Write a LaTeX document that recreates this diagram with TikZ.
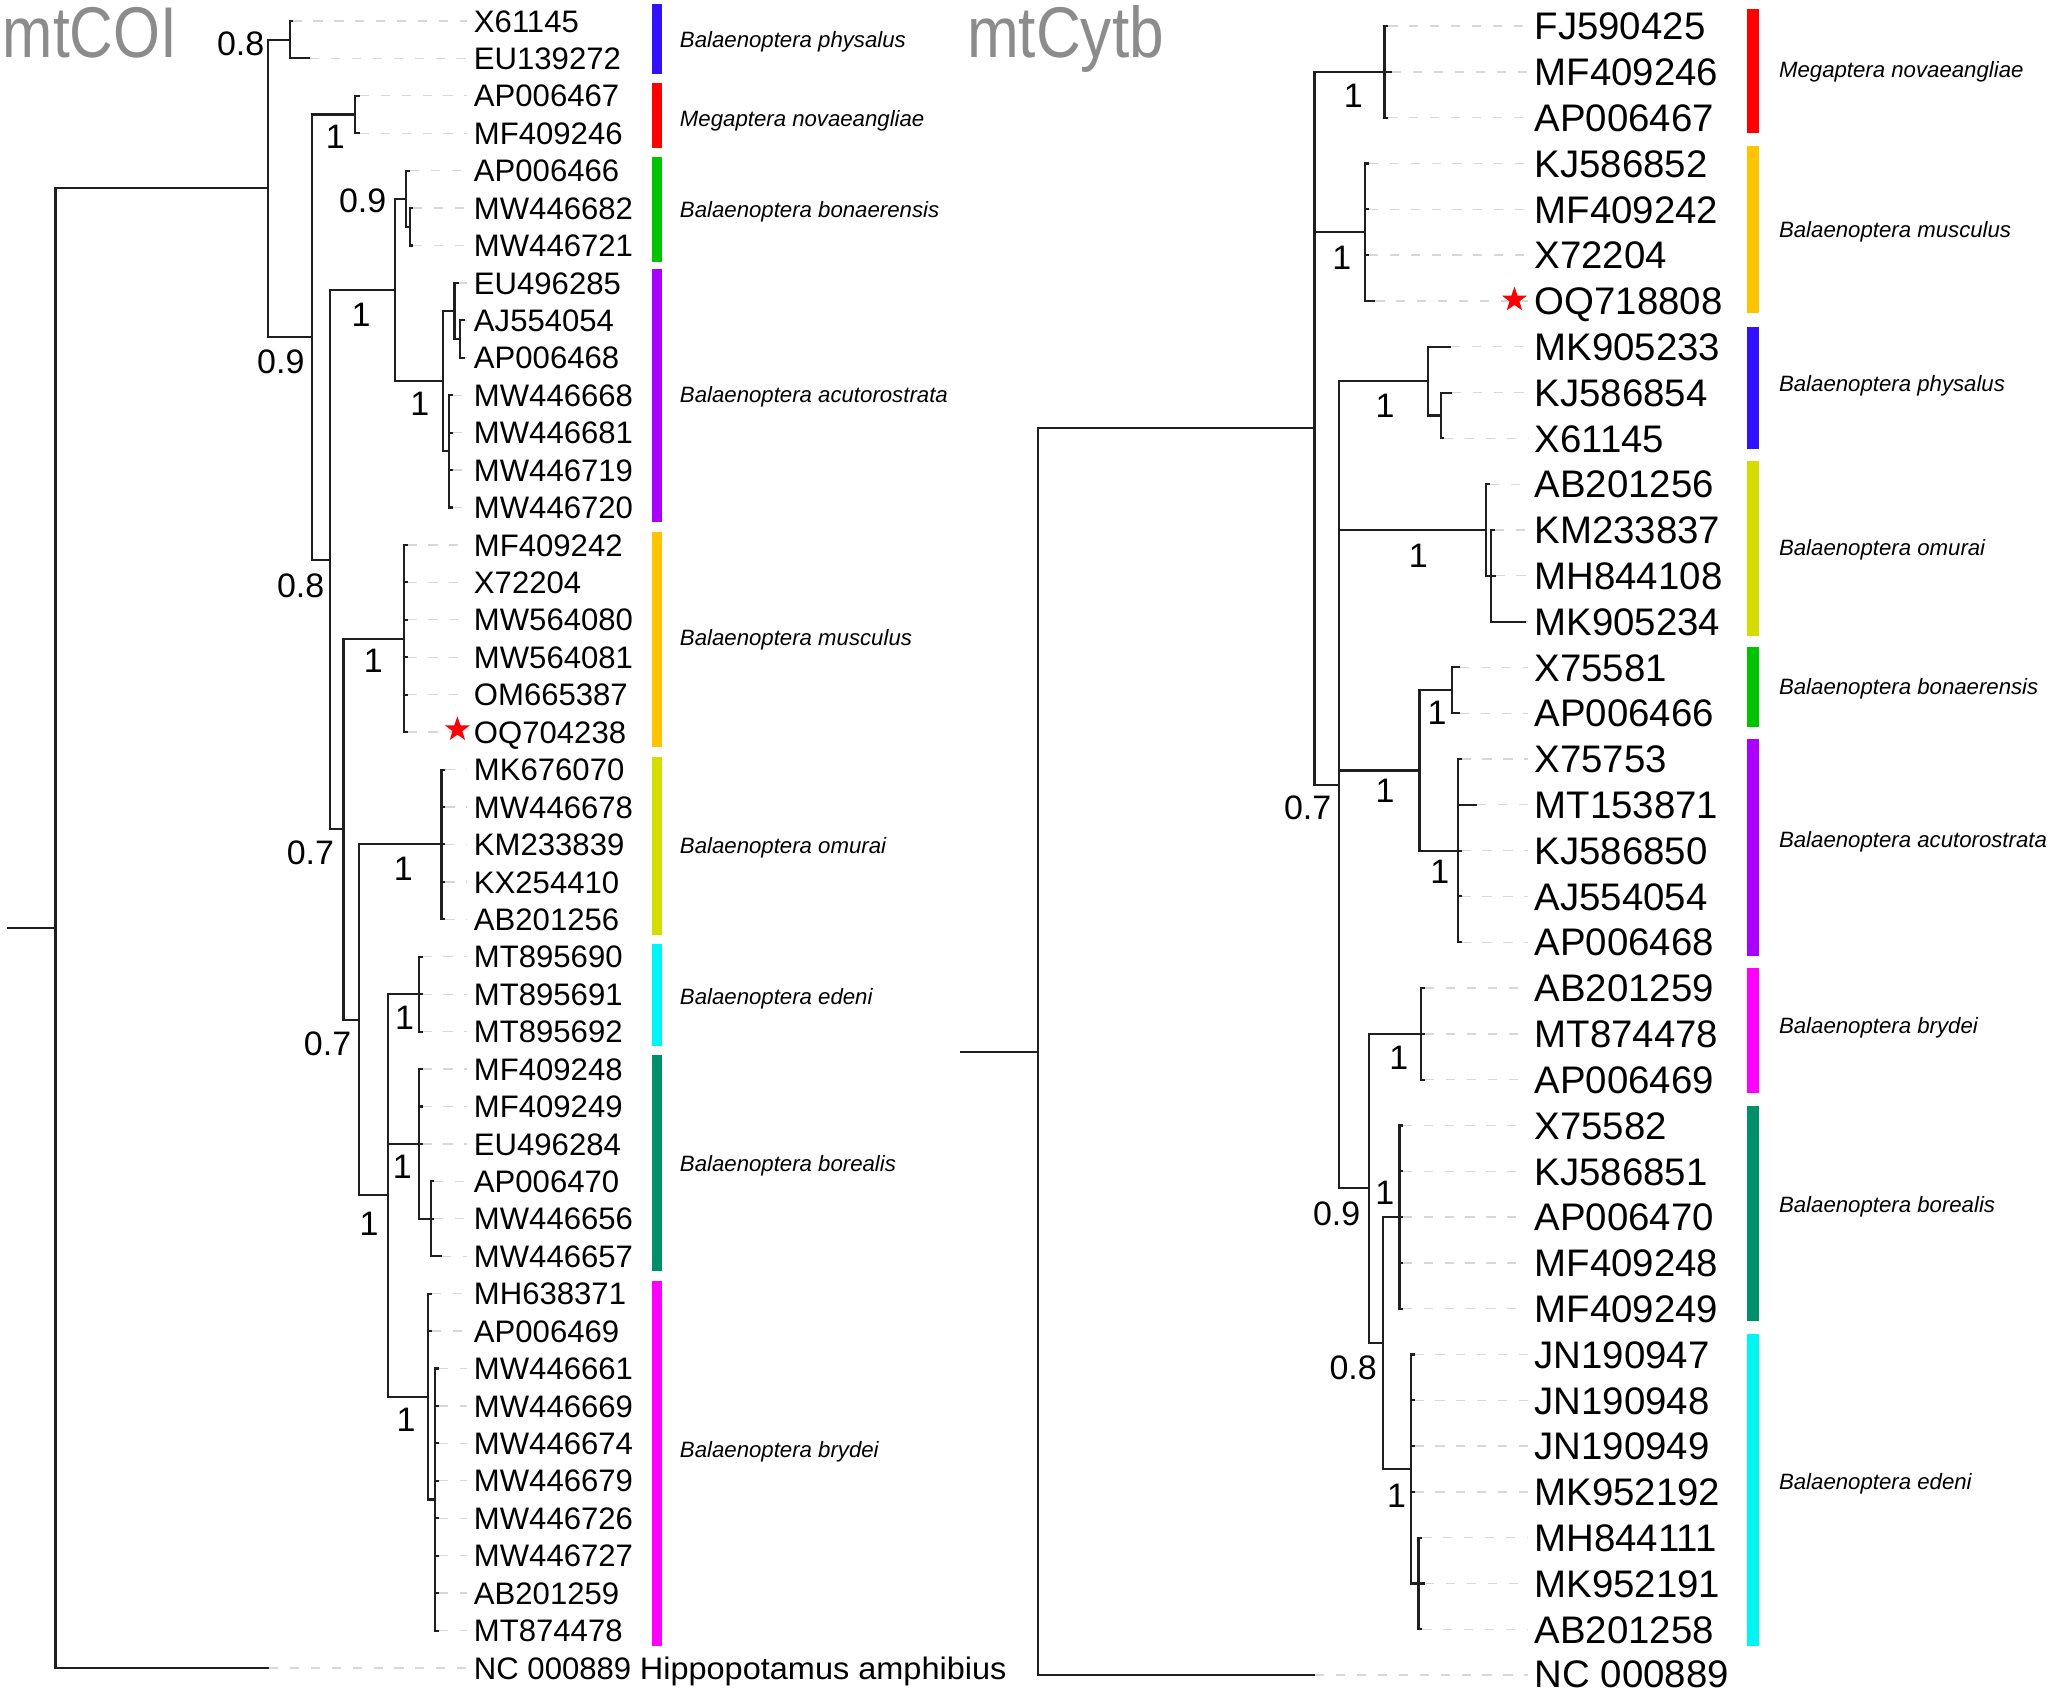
\documentclass[tikz,border=0pt]{standalone}
\usepackage{fontspec}
\setmainfont{Liberation Sans}
\usepackage{graphicx}
\usetikzlibrary{shapes.geometric}
\definecolor{cPh}{RGB}{51,17,255}
\definecolor{cMeg}{RGB}{255,0,0}
\definecolor{cBon}{RGB}{0,196,0}
\definecolor{cAcu}{RGB}{170,0,255}
\definecolor{cMus}{RGB}{255,196,0}
\definecolor{cOm}{RGB}{212,220,0}
\definecolor{cEd}{RGB}{0,245,245}
\definecolor{cBor}{RGB}{0,143,107}
\definecolor{cBry}{RGB}{255,0,255}
\definecolor{cTitle}{RGB}{140,140,140}
\definecolor{cLead}{RGB}{215,215,215}
\newcommand{\Lrow}[1]{(16+(#1-1)*28.66)}
\newcommand{\Rrow}[1]{(20+(#1-1)*35.07)}
\begin{document}
\begin{tikzpicture}[x=0.5pt,y=-0.5pt,
  br/.style={line width=0.8pt, draw=black!88},
  leader/.style={draw=cLead, line width=0.5pt, dash pattern=on 3.5pt off 4.5pt, shorten >=2.4pt},
  leafL/.style={anchor=base west, inner sep=0pt, font=\fontsize{11.9pt}{13pt}\selectfont, yshift=-4.26pt},
  leafR/.style={anchor=base west, inner sep=0pt, font=\fontsize{14.7pt}{16pt}\selectfont, yshift=-5.26pt},
  sup/.style={anchor=center, inner sep=0pt, font=\fontsize{13pt}{14pt}\selectfont},
  spec/.style={anchor=base west, inner sep=0pt, font=\fontsize{8.5pt}{10pt}\selectfont\itshape, yshift=-3.04pt},
  title/.style={inner sep=0pt, text=cTitle, font=\fontsize{27.5pt}{30pt}\selectfont},
  starR/.style={star, star points=5, star point ratio=2.5, fill=red, draw=none, inner sep=0pt, minimum size=10pt}
]
\useasboundingbox (0,0) rectangle (1568,1294);

% titles
\node[title, anchor=base east] (tCOI) at (136,43.7) {\scalebox{0.84}[1]{mtCOI}};
\node[title, anchor=base west] (tCytb) at (740,43.7) {\scalebox{0.865}[1]{mtCytb}};

% ================= LEFT TREE (mtCOI) =================
\foreach \i/\tx/\lab in {
 1/224/X61145, 2/237.5/EU139272, 3/275.5/AP006467, 4/275.5/MF409246,
 5/314/AP006466, 6/316/MW446682, 7/316/MW446721, 8/351.5/EU496285,
 9/356/AJ554054, 10/356/AP006468, 11/346.5/MW446668, 12/346.5/MW446681,
 13/346.5/MW446719, 14/346.5/MW446720, 15/312/MF409242, 16/312/X72204,
 17/312/MW564080, 18/312/MW564081, 19/312/OM665387, 20/312/OQ704238,
 21/341/MK676070, 22/341/MW446678, 23/341/KM233839, 24/341/KX254410,
 25/341/AB201256, 26/323.5/MT895690, 27/323.5/MT895691, 28/323.5/MT895692,
 29/323.5/MF409248, 30/323.5/MF409249, 31/323.5/EU496284, 32/332.5/AP006470,
 33/332.5/MW446656, 34/338.5/MW446657, 35/331/MH638371, 36/331/AP006469,
 37/336/MW446661, 38/336/MW446669, 39/336/MW446674, 40/336/MW446679,
 41/336/MW446726, 42/336/MW446727, 43/336/AB201259, 44/336/MT874478,
 45/206/{NC 000889 \scalebox{1.045}[1]{Hippopotamus amphibius}}}{
  \coordinate (Lt\i) at (\tx,{\Lrow{\i}});
  \node[leafL] (L\i) at (362.5,{\Lrow{\i}}) {\lab};
  \draw[leader] (Lt\i) -- (L\i.west |- Lt\i);
}
\node[starR] (sL) at (350.2,558.5) {};

\coordinate (Lstem) at (5,710.6);
\coordinate (Lroot) at (42.5,710.6);
\coordinate (LA) at (205.5,144.2);
\coordinate (Lph) at (222,30.33);
\coordinate (LB) at (239,258.05);
\coordinate (Lmeg) at (272,87.65);
\coordinate (LC) at (253,428.45);
\coordinate (LD) at (302.5,222);
\coordinate (Lbon) at (311,152.1);
\coordinate (LE) at (314,173.63);
\coordinate (LF) at (339,291.9);
\coordinate (LG) at (348,238.1);
\coordinate (LH) at (352,259.61);
\coordinate (LI) at (344,345.6);
\coordinate (LJ) at (263,634.9);
\coordinate (LK) at (309.5,488.9);
\coordinate (LL) at (275,780.85);
\coordinate (LM) at (338,646.5);
\coordinate (LN) at (297,915.2);
\coordinate (LO) at (321,761.16);
\coordinate (LR) at (321,875.8);
\coordinate (LS) at (330,933.12);
\coordinate (LP) at (328,1069.26);
\coordinate (LQ) at (333,1148.07);

\draw[br] (Lstem) -- (Lroot);
\foreach \p/\c in {Lroot/LA, Lroot/Lt45, LA/Lph, LA/LB, Lph/Lt1, Lph/Lt2,
  LB/Lmeg, LB/LC, Lmeg/Lt3, Lmeg/Lt4, LC/LD, LC/LJ, LD/Lbon, LD/LF,
  Lbon/Lt5, Lbon/LE, LE/Lt6, LE/Lt7, LF/LG, LF/LI, LG/Lt8, LG/LH,
  LH/Lt9, LH/Lt10, LI/Lt11, LI/Lt12, LI/Lt13, LI/Lt14,
  LJ/LK, LJ/LL, LK/Lt15, LK/Lt16, LK/Lt17, LK/Lt18, LK/Lt19, LK/Lt20,
  LL/LM, LL/LN, LM/Lt21, LM/Lt22, LM/Lt23, LM/Lt24, LM/Lt25,
  LN/LO, LN/LR, LN/LP, LO/Lt26, LO/Lt27, LO/Lt28,
  LR/Lt29, LR/Lt30, LR/Lt31, LR/LS, LS/Lt32, LS/Lt33, LS/Lt34,
  LP/Lt35, LP/Lt36, LP/LQ, LQ/Lt37, LQ/Lt38, LQ/Lt39, LQ/Lt40,
  LQ/Lt41, LQ/Lt42, LQ/Lt43, LQ/Lt44}{
  \draw[br] (\p) |- (\c);
}

% support values, left
\foreach \sx/\sy/\v [count=\k] in {184.3/33.5/0.8, 256.8/105/1, 277.7/153.8/0.9,
  276.5/241/1, 215/276.9/0.9, 321.5/309.4/1, 230.2/448.5/0.8, 285.9/506/1,
  237.7/653/0.7, 308.8/665/1, 309.8/779.6/1, 250.8/799.5/0.7, 308.1/893/1,
  282.5/937/1, 310.8/1087/1}{
  \node[sup] (Ls\k) at (\sx,\sy) {\v};
}

% colour bars and species names, left
\foreach \t/\b/\c/\ly/\nm [count=\k] in {
  3.1/56.7/cPh/30.6/Balaenoptera physalus,
  63.3/113.6/cMeg/90.6/Megaptera novaeangliae,
  120.5/200.4/cBon/160.3/Balaenoptera bonaerensis,
  206.2/400/cAcu/301.9/Balaenoptera acutorostrata,
  407/572/cMus/488/Balaenoptera musculus,
  579.5/715.5/cOm/647/Balaenoptera omurai,
  723/801/cEd/763/Balaenoptera edeni,
  808/973/cBor/891/Balaenoptera borealis,
  981/1260/cBry/1110/Balaenoptera brydei}{
  \fill[\c] (499.5,\t) rectangle (506.6,\b);
  \node[spec] (Lsp\k) at (520.2,\ly) {\nm};
}

% ================= RIGHT TREE (mtCytb) =================
\foreach \i/\tx/\lab in {
 1/1063/FJ590425, 2/1066/MF409246, 3/1063/AP006467, 4/1048/KJ586852,
 5/1048/MF409242, 6/1048/X72204, 7/1053/OQ718808, 8/1111/MK905233,
 9/1111.5/KJ586854, 10/1105.5/X61145, 11/1141/AB201256, 12/1144.5/KM233837,
 13/1145/MH844108, 14/1168.5/MK905234, 15/1118/X75581, 16/1118/AP006466,
 17/1119/X75753, 18/1130.7/MT153871, 19/1119/KJ586850, 20/1119/AJ554054,
 21/1119/AP006468, 22/1091/AB201259, 23/1091/MT874478, 24/1091/AP006469,
 25/1074/X75582, 26/1074/KJ586851, 27/1074/AP006470, 28/1074/MF409248,
 29/1074/MF409249, 30/1083/JN190947, 31/1083/JN190948, 32/1083/JN190949,
 33/1083/MK952192, 34/1089/MH844111, 35/1091/MK952191, 36/1089/AB201258}{
  \coordinate (Rt\i) at (\tx,{\Rrow{\i}});
  \node[leafR] (R\i) at (1174.5,{\Rrow{\i}}) {\lab};
  \draw[leader] (Rt\i) -- (R\i.west |- Rt\i);
}
\coordinate (Rt37) at (1007,1282.3);
\node[leafR] (R37) at (1174.5,1281.3) {NC 000889};
\draw[leader] (Rt37) -- (R37.west |- Rt37);
\node[starR] (sR) at (1159.5,229.5) {};

\coordinate (Rstem) at (735,805.24);
\coordinate (Rroot) at (794.6,805.24);
\coordinate (RA) at (1006.4,327.96);
\coordinate (Rmeg) at (1060,55.07);
\coordinate (Rmus) at (1045,177.8);
\coordinate (RB) at (1025.5,600.85);
\coordinate (Rph) at (1093.5,291.8);
\coordinate (Rphs) at (1103.5,318.1);
\coordinate (Rom) at (1137.8,405.77);
\coordinate (Roms) at (1141.6,440.84);
\coordinate (RBA) at (1086.8,589.9);
\coordinate (Rbon) at (1111.5,528.5);
\coordinate (Racu) at (1116.2,651.26);
\coordinate (RC) at (1048,909.9);
\coordinate (Rbry) at (1088,791.54);
\coordinate (RD) at (1058.9,1028.3);
\coordinate (Rbor) at (1071.5,931.82);
\coordinate (Red) at (1080.2,1124.7);
\coordinate (Reds) at (1086,1212.38);

\draw[br] (Rstem) -- (Rroot);
\foreach \p/\c in {Rroot/RA, Rroot/Rt37, RA/Rmeg, RA/Rmus, RA/RB,
  Rmeg/Rt1, Rmeg/Rt2, Rmeg/Rt3, Rmus/Rt4, Rmus/Rt5, Rmus/Rt6, Rmus/Rt7,
  RB/Rph, RB/Rom, RB/RBA, RB/RC, Rph/Rt8, Rph/Rphs, Rphs/Rt9, Rphs/Rt10,
  Rom/Rt11, Rom/Roms, Roms/Rt12, Roms/Rt13, Roms/Rt14,
  RBA/Rbon, RBA/Racu, Rbon/Rt15, Rbon/Rt16,
  Racu/Rt17, Racu/Rt18, Racu/Rt19, Racu/Rt20, Racu/Rt21,
  RC/Rbry, RC/RD, Rbry/Rt22, Rbry/Rt23, Rbry/Rt24,
  RD/Rbor, RD/Red, Rbor/Rt25, Rbor/Rt26, Rbor/Rt27, Rbor/Rt28, Rbor/Rt29,
  Red/Rt30, Red/Rt31, Red/Rt32, Red/Rt33, Red/Reds,
  Reds/Rt34, Reds/Rt35, Reds/Rt36}{
  \draw[br] (\p) |- (\c);
}

% support values, right
\foreach \sx/\sy/\v [count=\k] in {1036.1/73.5/1, 1027.3/197.3/1, 1060.5/310.8/1,
  1085.9/425.4/1, 1001.2/618.3/0.7, 1060.5/605.4/1, 1100.3/546/1,
  1102.4/667.3/1, 1071/809.7/1, 1060.2/913.6/1, 1023.4/929/0.9,
  1036/1047/0.8, 1069.3/1144.9/1}{
  \node[sup] (Rs\k) at (\sx,\sy) {\v};
}

% colour bars and species names, right
\foreach \t/\b/\c/\ly/\nm [count=\k] in {
  6.9/101.6/cMeg/53.6/Megaptera novaeangliae,
  111.5/239.4/cMus/175.6/Balaenoptera musculus,
  250.5/344/cPh/294/Balaenoptera physalus,
  353/487/cOm/419/Balaenoptera omurai,
  495.5/556.5/cBon/526/Balaenoptera bonaerensis,
  566/732/cAcu/643/Balaenoptera acutorostrata,
  741/837/cBry/785/Balaenoptera brydei,
  847/1011.5/cBor/922/Balaenoptera borealis,
  1021.5/1260/cEd/1134/Balaenoptera edeni}{
  \fill[\c] (1337.4,\t) rectangle (1346.9,\b);
  \node[spec] (Rsp\k) at (1361.7,\ly) {\nm};
}
\end{tikzpicture}
\end{document}
